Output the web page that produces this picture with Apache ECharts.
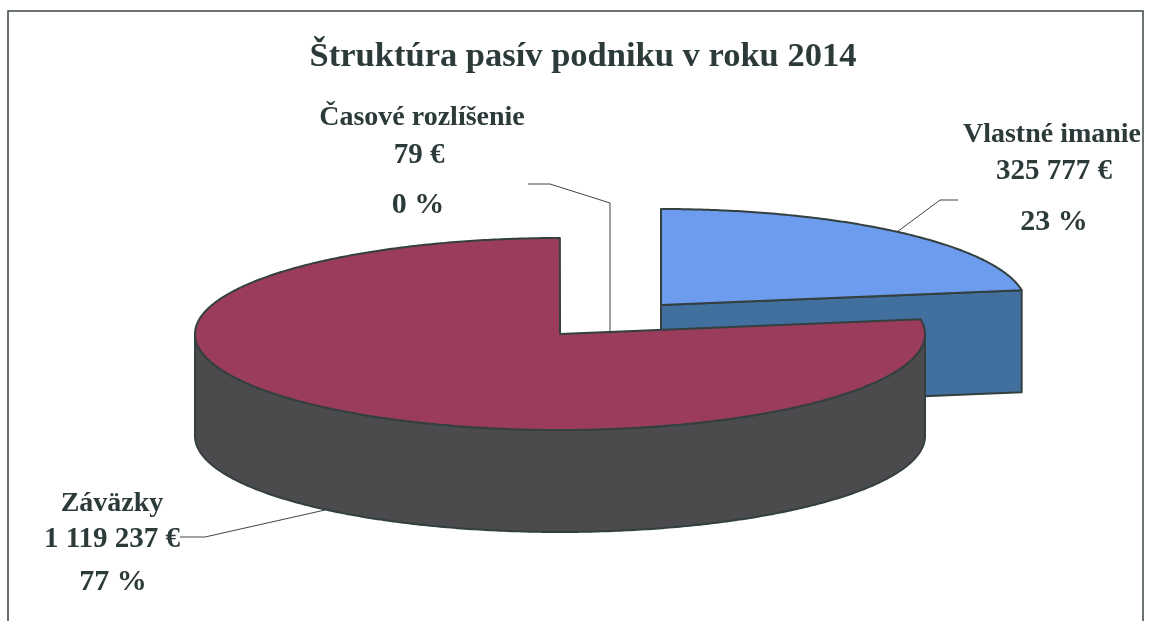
<!DOCTYPE html>
<html><head><meta charset="utf-8">
<style>html,body{margin:0;padding:0;background:#fff}#c{width:1151px;height:621px;filter:blur(0.45px)}</style>
<script src="https://cdn.jsdelivr.net/npm/echarts@6/dist/echarts.min.js"></script>
</head><body><div id="c"></div>
<script>
const titleText = 'Štruktúra pasív podniku v roku 2014';
const categories = ['Vlastné imanie', 'Časové rozlíšenie', 'Záväzky'];
const values = [325777, 79, 1119237];
const valueLabels = ['325 777 €', '79 €', '1 119 237 €'];
const percentLabels = ['23 %', '0 %', '77 %'];
const sliceOrder = [0, 2, 1];

const RX = 365, RY = 96, DEPTH = 102;
const centers = [[661, 305], [560, 334], [560, 334]];
const topColors = ['#6d9cee', '#ffffff', '#9c3c5c'];
const sideColors = ['#41709f', '#ffffff', '#4b4b4d'];
const edge = '#33403f';
const textColor = '#2c3a3a';
const labelSizes = [28, 29, 30];
const labelPos = [[[1052, 135], [1054, 172], [1054, 222]],
                  [[422, 118], [419, 156], [418, 205]],
                  [[112, 504], [112, 540], [113, 582]]];
const leaders = [[[897, 232], [940, 200], [958, 200]],
                 [[610, 334], [610, 203], [550, 184], [528, 184]],
                 [[325, 510], [205, 537], [180, 537]]];

const total = values.reduce((a, b) => a + b, 0);
function angles() {
  const res = {}; let acc = 0;
  [0, 2, 1].forEach(i => { res[i] = [acc, acc + values[i] / total * 2 * Math.PI]; acc = res[i][1]; });
  return res;
}
const ang = angles();
function pt(c, a, dy) { return [c[0] + RX * Math.sin(a), c[1] - RY * Math.cos(a) + (dy || 0)]; }
function arc(c, a0, a1, dy) {
  const n = Math.max(2, Math.ceil((a1 - a0) / 0.01)), out = [];
  for (let k = 0; k <= n; k++) out.push(pt(c, a0 + (a1 - a0) * k / n, dy));
  return out;
}
function renderItem(params, api) {
  const i = sliceOrder[params.dataIndex];
  const v = api.value(1);
  const c = centers[i], a0 = ang[i][0], a1 = ang[i][1];
  const children = [];
  const style = (fill) => ({ fill, stroke: edge, lineWidth: 2, lineJoin: 'round' });
  if (v / total > 0.001) {
    const w0 = Math.max(a0, Math.PI / 2), w1 = Math.min(a1, 3 * Math.PI / 2);
    if (w1 > w0) {
      const top = arc(c, w0, w1, 0), bot = arc(c, w0, w1, DEPTH).reverse();
      children.push({ type: 'polygon', shape: { points: top.concat(bot) }, style: style(sideColors[i]) });
    }
    if (a1 < Math.PI) {
      const e = pt(c, a1, 0), e2 = pt(c, a1, DEPTH);
      children.push({ type: 'polygon', shape: { points: [c, e, e2, [c[0], c[1] + DEPTH]] }, style: style(sideColors[i]) });
    }
    children.push({ type: 'polygon', shape: { points: [c].concat(arc(c, a0, a1, 0)) }, style: style(topColors[i]) });
  }
  children.push({ type: 'polyline', shape: { points: leaders[i] }, style: { fill: null, stroke: '#3c4646', lineWidth: 1 } });
  [categories[i], valueLabels[i], percentLabels[i]].forEach((t, k) => {
    children.push({ type: 'text', x: labelPos[i][k][0], y: labelPos[i][k][1],
      style: { text: t, fill: textColor, font: 'bold ' + labelSizes[k] + 'px "Liberation Serif"', align: 'center', verticalAlign: 'middle' } });
  });
  return { type: 'group', children };
}
const chart = echarts.init(document.getElementById('c'), null, { renderer: 'canvas' });
chart.setOption({
  backgroundColor: '#ffffff',
  animation: false,
  title: { text: titleText, left: 578, top: 35, textAlign: 'center',
    textStyle: { fontFamily: 'Liberation Serif', fontWeight: 'bold', fontSize: 34.5, color: textColor } },
  graphic: [{ type: 'rect', shape: { x: 8, y: 11, width: 1135, height: 640 }, style: { fill: null, stroke: '#3a4444', lineWidth: 1.5 }, z: -1 }],
  series: [{ type: 'custom', coordinateSystem: 'none', renderItem, clip: false,
    data: sliceOrder.map(i => [categories[i], values[i]]) }]
});
</script></body></html>
